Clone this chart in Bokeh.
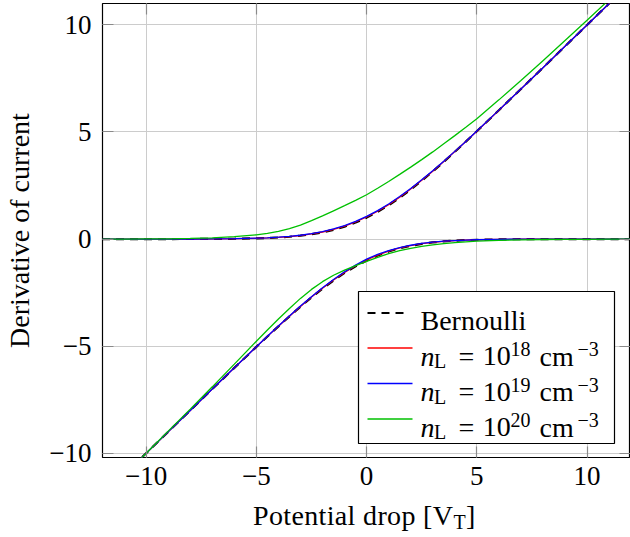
from bokeh.plotting import figure
from bokeh.layouts import column
from bokeh.models import Range1d, LinearAxis, FixedTicker, Div
from bokeh.core.properties import value
from bokeh.embed import file_html
from bokeh.resources import INLINE

# ---------------- data ----------------
x_vals = [-12, -11, -10, -9, -8, -7, -6, -5, -4.5, -4, -3.5, -3, -2.5, -2, -1.5, -1, -0.5, 0,
          0.5, 1, 1.5, 2, 2.5, 3, 3.5, 4, 4.5, 5, 6, 7, 8, 9, 10, 11, 12]

bern_upper = [0.0, 0.0, 0.0, 0.001, 0.003, 0.006, 0.015, 0.034, 0.051, 0.075, 0.109, 0.157,
              0.224, 0.313, 0.431, 0.582, 0.771, 1.0, 1.271, 1.582, 1.931, 2.313, 2.724,
              3.157, 3.609, 4.075, 4.551, 5.034, 6.015, 7.006, 8.003, 9.001, 10.0, 11.0, 12.0]
bern_lower = [-12.0, -11.0, -10.0, -9.001, -8.003, -7.006, -6.015, -5.034, -4.551, -4.075,
              -3.609, -3.157, -2.724, -2.313, -1.931, -1.582, -1.271, -1.0, -0.771, -0.582,
              -0.431, -0.313, -0.224, -0.157, -0.109, -0.075, -0.051, -0.034, -0.015, -0.006,
              -0.003, -0.001, 0.0, 0.0, 0.0]

red_upper = [0.0, 0.0, 0.0, 0.001, 0.003, 0.007, 0.016, 0.037, 0.054, 0.08, 0.116, 0.167,
             0.238, 0.33, 0.452, 0.606, 0.797, 1.03, 1.3, 1.61, 1.955, 2.335, 2.742,
             3.172, 3.62, 4.084, 4.556, 5.038, 6.017, 7.007, 8.003, 9.001, 10.0, 11.0, 12.0]
red_lower = [-12.0, -11.0, -10.0, -9.001, -8.003, -7.005, -6.013, -5.03, -4.545, -4.067,
             -3.6, -3.145, -2.71, -2.296, -1.91, -1.558, -1.245, -0.973, -0.748, -0.563,
             -0.416, -0.302, -0.216, -0.151, -0.105, -0.072, -0.049, -0.032, -0.014, -0.006,
             -0.003, -0.001, 0.0, 0.0, 0.0]

blue_upper = [0.0, 0.0, 0.0, 0.001, 0.004, 0.008, 0.018, 0.04, 0.058, 0.087, 0.124, 0.178,
              0.252, 0.348, 0.474, 0.632, 0.826, 1.06, 1.33, 1.64, 1.985, 2.36, 2.765,
              3.19, 3.63, 4.095, 4.56, 5.045, 6.02, 7.008, 8.004, 9.001, 10.0, 11.0, 12.0]
blue_lower = [-12.0, -11.0, -10.0, -9.001, -8.002, -7.004, -6.01, -5.025, -4.54, -4.058,
              -3.59, -3.13, -2.69, -2.275, -1.885, -1.53, -1.215, -0.94, -0.715, -0.535,
              -0.395, -0.288, -0.206, -0.145, -0.1, -0.069, -0.047, -0.031, -0.013, -0.005,
              -0.002, -0.001, 0.0, 0.0, 0.0]

green_upper = [0.0, 0.0, 0.01, 0.01, 0.03, 0.06, 0.11, 0.2, 0.27, 0.36, 0.49, 0.65,
               0.86, 1.08, 1.32, 1.56, 1.81, 2.07, 2.37, 2.69, 3.02, 3.36, 3.71,
               4.07, 4.45, 4.83, 5.22, 5.62, 6.5, 7.4, 8.33, 9.27, 10.22, 11.18, 12.15]
green_lower = [-12.05, -11.02, -10.0, -8.97, -7.94, -6.9, -5.84, -4.77, -4.25, -3.73,
               -3.24, -2.77, -2.35, -1.99, -1.69, -1.45, -1.24, -1.04, -0.85, -0.68,
               -0.54, -0.43, -0.34, -0.27, -0.21, -0.17, -0.13, -0.1, -0.06, -0.04,
               -0.02, -0.01, -0.01, 0.0, 0.0]

tick_values = [-10, -5, 0, 5, 10]
tick_labels = ["\u221210", "\u22125", "0", "5", "10"]

x_label = ["Potential drop [V", "T", "]"]
y_label = "Derivative of current"
legend_first = "Bernoulli"
legend_exps = ["18", "19", "20"]

# ---------------- figure geometry ----------------
FONT = "Liberation Serif"
XS, XE = -11.98, 11.97
YS, YE = -10.2, 11.0
FL, FW = 102, 528          # frame left / width  (px)
FT, FH = 3, 454            # frame top / height  (px)
FB = FT + FH

def dx(px):
    return XS + (px - FL) * (XE - XS) / FW

def dy(py):
    return YS + (FB - py) * (YE - YS) / FH

p = figure(width=630, height=497, output_backend="svg", toolbar_location=None,
           x_range=Range1d(XS, XE), y_range=Range1d(YS, YE),
           min_border_left=FL, min_border_right=0, min_border_top=FT, min_border_bottom=40)
p.background_fill_color = "white"
p.border_fill_color = "white"
p.outline_line_color = "black"
p.outline_line_width = 1.2

ticker = FixedTicker(ticks=tick_values)
overrides = {v: s for v, s in zip(tick_values, tick_labels)}

for g in (p.xgrid[0], p.ygrid[0]):
    g.ticker = ticker
    g.grid_line_color = "#cccccc"
    g.grid_line_width = 1

def style_axis(ax, labels=True):
    ax.ticker = ticker
    ax.axis_line_color = None
    ax.major_tick_in = 11
    ax.major_tick_out = 0
    ax.major_tick_line_color = "#8a8a8a"
    ax.major_tick_line_width = 1.2
    ax.minor_tick_line_color = None
    ax.major_label_text_font = FONT
    ax.major_label_text_font_size = "27px"
    ax.major_label_text_color = "black"
    if labels:
        ax.major_label_overrides = overrides
    else:
        ax.major_label_overrides = {v: "" for v in tick_values}
        ax.major_label_standoff = 0
        ax.major_label_text_font_size = "0px"

style_axis(p.xaxis[0])
style_axis(p.yaxis[0])
p.xaxis[0].major_label_standoff = 9
p.yaxis[0].major_label_standoff = 11
p.yaxis[0].axis_label = y_label
p.yaxis[0].axis_label_text_font = FONT
p.yaxis[0].axis_label_text_font_size = "28px"
p.yaxis[0].axis_label_text_font_style = "normal"
p.yaxis[0].axis_label_text_color = "black"
p.yaxis[0].axis_label_standoff = 11

ax_r = LinearAxis()
style_axis(ax_r, labels=False)
p.add_layout(ax_r, "right")
ax_t = LinearAxis()
style_axis(ax_t, labels=False)
p.add_layout(ax_t, "above")

# ---------------- curves ----------------
styles = {
    "bern": dict(line_color="black", line_width=2.2, line_dash="8 6"),
    "red": dict(line_color="#ff0000", line_width=1.3),
    "blue": dict(line_color="#0000ff", line_width=1.3),
    "green": dict(line_color="#00c000", line_width=1.3),
}
p.line(x_vals, bern_upper, **styles["bern"])
p.line(x_vals, bern_lower, **styles["bern"])
p.line(x_vals, red_upper, **styles["red"])
p.line(x_vals, red_lower, **styles["red"])
p.line(x_vals, blue_upper, **styles["blue"])
p.line(x_vals, blue_lower, **styles["blue"])
p.line(x_vals, green_upper, **styles["green"])
p.line(x_vals, green_lower, **styles["green"])

# ---------------- legend (drawn from pixel positions) ----------------
p.quad(left=[dx(358)], right=[dx(614)], top=[dy(291)], bottom=[dy(443)],
       fill_color="white", line_color="black", line_width=1.2)
row_c = [312.5, 347.5, 383, 418.5]
for yc, key in zip(row_c, ["bern", "red", "blue", "green"]):
    x1 = 407 if key == "bern" else 412
    p.line([dx(367), dx(x1)], [dy(yc), dy(yc)], **styles[key])

base = [355.5, 391, 426.7]
main_x, main_y, main_t = [dx(420)], [dy(320)], [legend_first]
ital_x, ital_y, ital_t = [], [], []
scr_x, scr_y, scr_t = [], [], []
for b, e in zip(base, legend_exps):
    ital_x.append(dx(420)); ital_y.append(dy(b)); ital_t.append("n")
    scr_x.append(dx(433.5)); scr_y.append(dy(b + 5)); scr_t.append("L")
    main_x += [dx(458), dx(482.3), dx(539)]
    main_y += [dy(b)] * 3
    main_t += ["=", "10", "cm"]
    scr_x += [dx(510), dx(577)]
    scr_y += [dy(b - 7)] * 2
    scr_t += [e, "\u22123"]

common = dict(text_font=value(FONT), text_color="black", text_align="left",
              text_baseline="alphabetic")
p.text(main_x, main_y, text=main_t, text_font_size="28px", **common)
p.text(ital_x, ital_y, text=ital_t, text_font_size="28px", text_font_style="italic", **common)
p.text(scr_x, scr_y, text=scr_t, text_font_size="20px", **common)

# ---------------- x axis label (HTML text with a subscript) ----------------
xdiv = Div(width=630, height=40, text=(
    "<div style=\"font-family:'Liberation Serif'; font-size:28px; line-height:28px; "
    "letter-spacing:0.35px; color:black; white-space:nowrap; padding-left:248px; "
    "padding-top:0px;\">"
    + x_label[0]
    + "<span style=\"font-size:20px; position:relative; top:4px;\">" + x_label[1] + "</span>"
    + x_label[2] + "</div>"))

layout = column(p, xdiv, spacing=0)
open("out.html", "w").write(file_html(layout, INLINE))
